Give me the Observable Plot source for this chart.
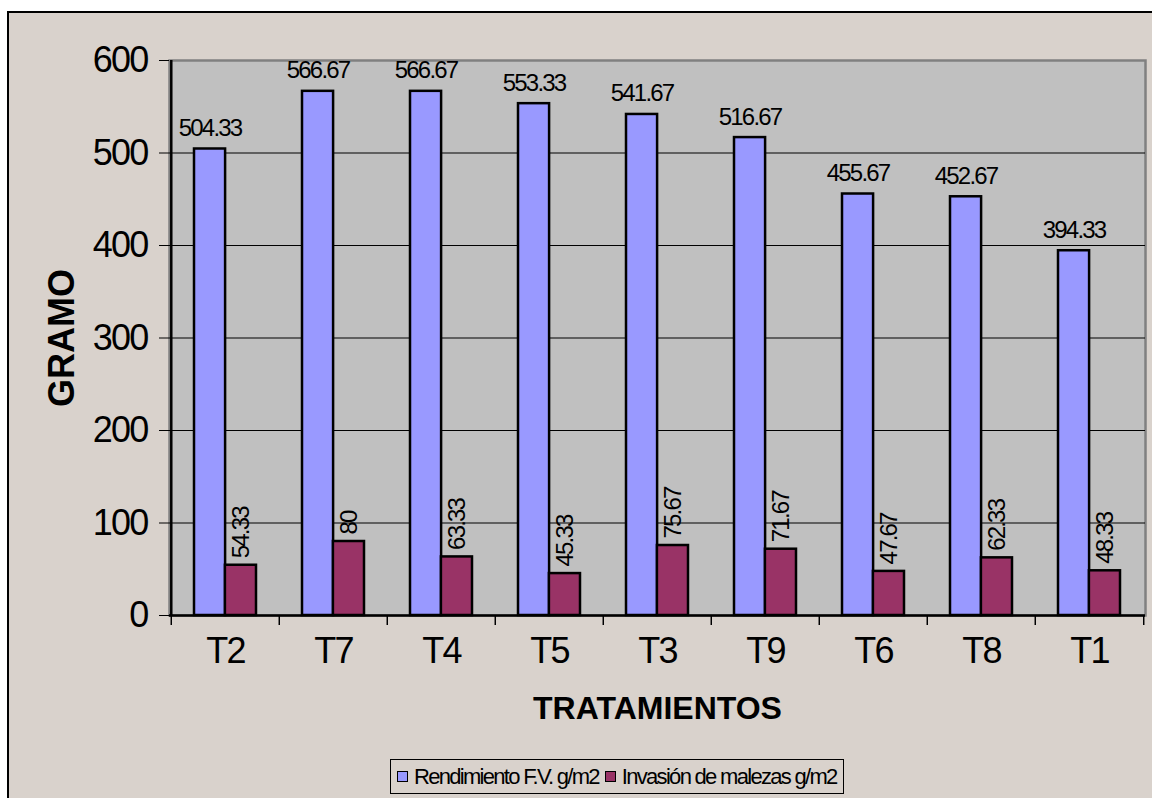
<!DOCTYPE html>
<html>
<head>
<meta charset="utf-8">
<script src="https://cdn.jsdelivr.net/npm/d3@7"></script>
<script src="https://cdn.jsdelivr.net/npm/@observablehq/plot@0.6"></script>
<style>
  html, body { margin: 0; padding: 0; background: #fff; width: 1152px; height: 798px; overflow: hidden; }
  #wrap { position: absolute; left: 7px; top: 11px; width: 1170px; height: 820px;
          border: 2px solid #000; background: #d9d2cc; }
  #chart { position: absolute; left: 0; top: 0; }
  #chart svg text { letter-spacing: -1.8px; }
  #chart svg g[font-weight="bold"] text { letter-spacing: 0; }
  #legend { position: absolute; left: 381px; top: 746px; width: 452px; height: 33px;
            border: 1.5px solid #000; display: flex; align-items: center;
            font-family: "Liberation Sans", Arial, sans-serif; font-size: 22px; letter-spacing: -1.7px; color: #000; }
  .item { display: flex; align-items: center; margin-left: 6px; }
  .sw { width: 9px; height: 9px; border: 1.5px solid #000; margin-right: 6px; }
</style>
</head>
<body>
<div id="wrap">
  <div id="chart"></div>
  <div id="legend"></div>
</div>
<script>
const categories = ["T2", "T7", "T4", "T5", "T3", "T9", "T6", "T8", "T1"];
const rendimiento = [504.33, 566.67, 566.67, 553.33, 541.67, 516.67, 455.67, 452.67, 394.33];
const malezas = [54.33, 80, 63.33, 45.33, 75.67, 71.67, 47.67, 62.33, 48.33];
const seriesNames = ["Rendimiento F.V. g/m2", "Invasión de malezas g/m2"];
const seriesColors = ["#9999ff", "#993366"];
const yTicks = [0, 100, 200, 300, 400, 500, 600];
const gridTicks = [100, 200, 300, 400, 500];

const W = 1143, H = 720;
const mL = 160, mR = 7, mT = 47, mB = 118;
const step = (W - mL - mR) / categories.length;
const half = step * (1 - 0.43) / 2;

const rows1 = categories.map((c, i) => ({cat: c, v: rendimiento[i], label: String(rendimiento[i])}));
const rows2 = categories.map((c, i) => ({cat: c, v: malezas[i], label: String(malezas[i])}));

const font = "'Liberation Sans', Arial, sans-serif";

const plot = Plot.plot({
  width: W, height: H,
  marginLeft: mL, marginRight: mR, marginTop: mT, marginBottom: mB,
  style: {fontFamily: font, background: "transparent", color: "#000", overflow: "visible"},
  x: {domain: categories, paddingInner: 0.43, paddingOuter: 0.215, label: null},
  y: {domain: [0, 600], label: null},
  marks: [
    Plot.frame({fill: "#c0c0c0", stroke: "#808080", strokeWidth: 2.5}),
    Plot.ruleY(gridTicks, {stroke: "#000", strokeWidth: 1}),
    // category boundary ticks
    Plot.ruleX(categories, {x: d => d, y1: 0, y2: 0, insetBottom: -10, dx: -step / 2, stroke: "#000", strokeWidth: 1.5}),
    Plot.ruleX([categories[categories.length - 1]], {x: d => d, y1: 0, y2: 0, insetBottom: -10, dx: step / 2, stroke: "#000", strokeWidth: 1.5}),
    // left axis line
    Plot.ruleX([categories[0]], {x: d => d, y1: 0, y2: 600, dx: -step / 2, stroke: "#000", strokeWidth: 2.5}),
    Plot.barY(rows1, {x: "cat", y: "v", insetRight: half, fill: seriesColors[0], stroke: "#000", strokeWidth: 2.5}),
    Plot.barY(rows2, {x: "cat", y: "v", insetLeft: half, fill: seriesColors[1], stroke: "#000", strokeWidth: 2.5}),
    Plot.ruleY([0], {stroke: "#000", strokeWidth: 2.5}),
    Plot.text(rows1, {x: "cat", y: "v", text: "label", dx: -half / 2, dy: -13, lineAnchor: "bottom", fontSize: 24, fill: "#000"}),
    Plot.text(rows2, {x: "cat", y: "v", text: "label", rotate: -90, textAnchor: "start", lineAnchor: "middle", dx: half / 2, dy: -7, fontSize: 24, fill: "#000"}),
    Plot.axisY({ticks: yTicks, tickSize: 10, tickPadding: 12, fontSize: 36, label: null}),
    Plot.axisX({tickSize: 0, tickPadding: 22, fontSize: 36, label: null}),
    Plot.text(["TRATAMIENTOS"], {frameAnchor: "bottom", dy: 93, textAnchor: "middle", lineAnchor: "middle", fontSize: 32, fontWeight: "bold", fill: "#000"}),
    Plot.text(["GRAMO"], {frameAnchor: "left", rotate: -90, dx: -107, textAnchor: "middle", lineAnchor: "middle", fontSize: 36, fontWeight: "bold", fill: "#000"})
  ]
});
document.getElementById("chart").appendChild(plot);

const legend = document.getElementById("legend");
seriesNames.forEach((name, i) => {
  const item = document.createElement("div");
  item.className = "item";
  const sw = document.createElement("div");
  sw.className = "sw";
  sw.style.background = seriesColors[i];
  const t = document.createElement("span");
  t.textContent = name;
  item.appendChild(sw);
  item.appendChild(t);
  legend.appendChild(item);
});
</script>
</body>
</html>
